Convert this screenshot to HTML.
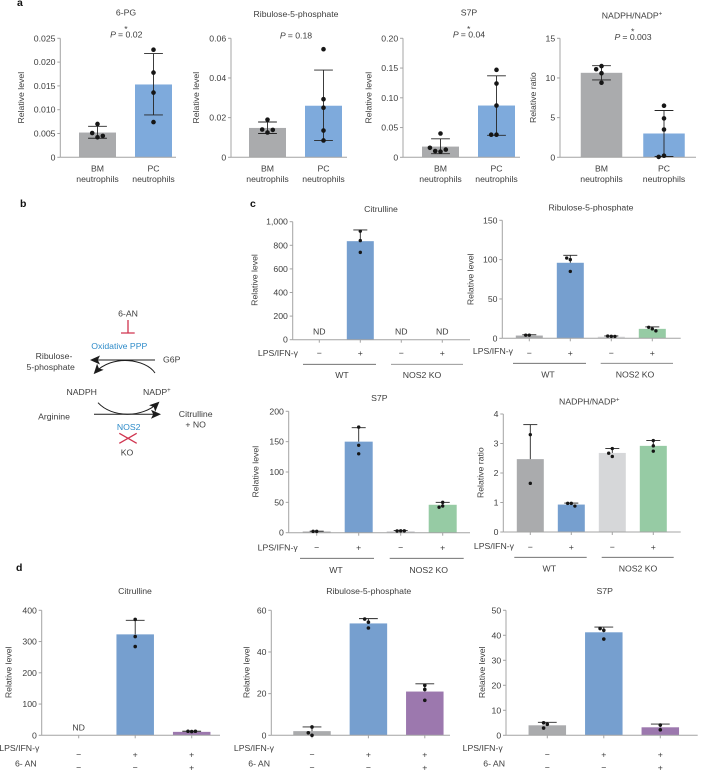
<!DOCTYPE html>
<html>
<head>
<meta charset="utf-8">
<title>Neutrophil metabolite figure</title>
<style>
html,body{margin:0;padding:0;background:#fff;width:706px;height:771px;overflow:hidden}
svg{display:block;filter:blur(0.3px)}
text{font-family:"Liberation Sans",Arial,sans-serif;font-size:8.7px;fill:#3d3d3d}
.lab{font-weight:bold;font-size:10.5px;fill:#111}
</style>
</head>
<body>
<svg id="figure" xmlns="http://www.w3.org/2000/svg" width="706" height="771" viewBox="0 0 706 771">
  <text class="lab" x="17" y="6">a</text>
  <text class="lab" x="20" y="207">b</text>
  <text class="lab" x="250" y="207">c</text>
  <text class="lab" x="16" y="571">d</text>

  <g>
    <defs>
      <marker id="ah" markerWidth="10" markerHeight="9" refX="8" refY="4.5" orient="auto" markerUnits="userSpaceOnUse">
        <path d="M0,0 L10,4.5 L0,9 L2.2,4.5 Z" fill="#1c1c1c"/>
      </marker>
    </defs>
    <text x="128" y="316.7" text-anchor="middle">6-AN</text>
    <path d="M128,320V333M121,333H134.7" stroke="#d0344f" stroke-width="1.3" fill="none"/>
    <text x="119.3" y="348.8" text-anchor="middle" style="fill:#2e8bc9">Oxidative PPP</text>
    <text x="54" y="359" text-anchor="middle">Ribulose-</text>
    <text x="50.7" y="369.8" text-anchor="middle">5-phosphate</text>
    <text x="163" y="362.7">G6P</text>
    <path d="M155,360H92" stroke="#1c1c1c" stroke-width="1" fill="none" marker-end="url(#ah)"/>
    <path d="M155,373C146,359 112,354 95,372.7" stroke="#1c1c1c" stroke-width="1" fill="none" marker-end="url(#ah)"/>
    <text x="81.7" y="395" text-anchor="middle">NADPH</text>
    <text x="143" y="395">NADP<tspan dy="-3" font-size="6">+</tspan></text>
    <text x="54" y="419.7" text-anchor="middle">Arginine</text>
    <path d="M94,414.3H159" stroke="#1c1c1c" stroke-width="1" fill="none" marker-end="url(#ah)"/>
    <path d="M98,402.7C112,418 142,418 158,403" stroke="#1c1c1c" stroke-width="1" fill="none" marker-end="url(#ah)"/>
    <text x="195.7" y="417" text-anchor="middle">Citrulline</text>
    <text x="195.7" y="427.3" text-anchor="middle">+ NO</text>
    <text x="128.7" y="430" text-anchor="middle" style="fill:#2e8bc9">NOS2</text>
    <path d="M119.3,433.3L136.7,443.3M136.7,433.3L119.3,443.3" stroke="#d0344f" stroke-width="1.3" fill="none"/>
    <text x="127" y="455.7" text-anchor="middle">KO</text>
  </g>
</svg>
<script>
/* ---------- panel a data ---------- */
const aCategories = ['BM neutrophils', 'PC neutrophils'];

const a1Ticks = ['0', '0.005', '0.010', '0.015', '0.020', '0.025'];
const a1TickValues = [0, 0.005, 0.010, 0.015, 0.020, 0.025];
const a1Means = [0.0052, 0.0153];
const a1Low = [0.0040, 0.0089];
const a1High = [0.0065, 0.0218];
const a1Points = [[0.0070, 0.0042, 0.0051, 0.0045], [0.0226, 0.0178, 0.0136, 0.0074]];

const a2Ticks = ['0', '0.02', '0.04', '0.06'];
const a2TickValues = [0, 0.02, 0.04, 0.06];
const a2Means = [0.0148, 0.026];
const a2Low = [0.012, 0.0085];
const a2High = [0.0178, 0.044];
const a2Points = [[0.019, 0.0125, 0.014, 0.0138], [0.0545, 0.0293, 0.025, 0.0135, 0.0085]];

const a3Ticks = ['0', '0.05', '0.10', '0.15', '0.20'];
const a3TickValues = [0, 0.05, 0.10, 0.15, 0.20];
const a3Means = [0.018, 0.087];
const a3Low = [0.006, 0.037];
const a3High = [0.031, 0.137];
const a3Points = [[0.040, 0.0095, 0.0105, 0.013, 0.016], [0.147, 0.124, 0.087, 0.038, 0.038]];

const a4Ticks = ['0', '5', '10', '15'];
const a4TickValues = [0, 5, 10, 15];
const a4Means = [10.65, 3.0];
const a4Low = [9.75, 0.1];
const a4High = [11.55, 5.9];
const a4Points = [[11.5, 11.1, 10.6, 9.4], [6.5, 4.9, 3.5, 0.2, 0.05]];

/* ---------- panel c data ---------- */
const cLps = ['−', '+', '−', '+'];

const c1Ticks = ['0', '200', '400', '600', '800', '1,000'];
const c1TickValues = [0, 200, 400, 600, 800, 1000];
const c1Means = [null, 835, null, null];
const c1High = [null, 930, null, null];
const c1Points = [[], [920, 840, 740], [], []];

const c2Ticks = ['0', '50', '100', '150'];
const c2TickValues = [0, 50, 100, 150];
const c2Means = [3.5, 96, 2, 12];
const c2High = [4.5, 105.5, 3, 14.5];
const c2Points = [[4, 4], [100, 102, 85], [2.5, 2.8, 2.4], [12, 14, 9.5]];

const c3Ticks = ['0', '50', '100', '150', '200'];
const c3TickValues = [0, 50, 100, 150, 200];
const c3Means = [2, 150, 2.5, 46];
const c3High = [2.5, 173, 3.5, 50];
const c3Points = [[2.2, 2.2], [174, 144, 130], [3, 2.8, 3], [50, 44, 42]];

const c4Ticks = ['0', '1', '2', '3', '4'];
const c4TickValues = [0, 1, 2, 3, 4];
const c4Means = [2.47, 0.93, 2.68, 2.92];
const c4High = [3.64, 0.98, 2.83, 3.1];
const c4Points = [[3.3, 1.65], [0.97, 0.97, 0.88], [2.83, 2.56, 2.67], [3.1, 2.92, 2.74]];

/* ---------- panel d data ---------- */
const dLps = ['−', '+', '+'];
const dAn = ['−', '−', '+'];

const d1Ticks = ['0', '100', '200', '300', '400'];
const d1TickValues = [0, 100, 200, 300, 400];
const d1Means = [null, 323, 11];
const d1High = [null, 368, 13];
const d1Points = [[], [371, 316, 284], [12, 13, 13]];

const d2Ticks = ['0', '20', '40', '60'];
const d2TickValues = [0, 20, 40, 60];
const d2Means = [2, 53.7, 21];
const d2High = [4, 56, 24.7];
const d2Points = [[4, 0, 1.2], [54.3, 55.8, 51.5], [24, 22, 16.8]];

const d3Ticks = ['0', '10', '20', '30', '40', '50'];
const d3TickValues = [0, 10, 20, 30, 40, 50];
const d3Means = [4, 41.2, 3.2];
const d3High = [5.2, 43.3, 4.5];
const d3Points = [[4.4, 5, 2.9], [42, 42.7, 38.5], [4.1, 2.2]];

/* ---------- drawing ---------- */
const svgNS = 'http://www.w3.org/2000/svg';
const root = document.getElementById('figure');
const GRAY = '#aaabad', BLUE_A = '#7eaadc', BLUE = '#769fcf', GREEN = '#96cba4', LIGHT = '#d6d7d9', PURPLE = '#9c78ae';
const AXIS = '#a4a4a4', INK = '#262626';

function make(parent, tag, name, attrs) {
  const el = document.createElementNS(svgNS, tag);
  
  
  for (const k in attrs) el.setAttribute(k, attrs[k]);
  parent.appendChild(el);
  return el;
}
function line(p, name, x1, y1, x2, y2, stroke, w) {
  return make(p, 'line', name, {x1, y1, x2, y2, stroke, 'stroke-width': w || 1});
}
function label(p, name, x, y, str, anchor, extra) {
  const t = make(p, 'text', name, Object.assign({x, y: y + 3, 'text-anchor': anchor || 'middle'}, extra || {}));
  t.textContent = str;
  return t;
}
/* places dots side by side when they would collide, keeping array order */
function swarm(values, yScale, step, gap) {
  const placed = [];
  const order = [0, -1, 1, -2, 2, -3, 3];
  return values.map(function (v) {
    const y = yScale(v);
    let off = 0;
    for (const o of order) {
      const dx = o * step;
      if (!placed.some(function (q) { return Math.abs(q.dx - dx) < step * 0.9 && Math.abs(q.y - y) < gap; })) { off = dx; break; }
    }
    placed.push({dx: off, y: y});
    return {dx: off, y: y};
  });
}

function drawChart(c) {
  const g = make(root, 'g', c.name, {});
  const maxV = c.tickValues[c.tickValues.length - 1];
  const yScale = function (v) { return c.y0 - (v / maxV) * (c.y0 - c.yTop); };
  const xScale = function (i) { return c.c0 + i * c.step; };

  label(g, 'chart-title', c.titleX, c.titleY, c.title);
  if (c.superPlus) {
    const tt = g.lastChild;
    const sup = make(tt, 'tspan', 'title-superscript', {dy: -3, 'font-size': 6});
    sup.textContent = '+';
  }

  c.means.forEach(function (m, i) {
    if (m === null) return;
    make(g, 'rect', 'bar-' + i, {x: xScale(i) - c.barW / 2, y: yScale(m), width: c.barW, height: c.y0 - yScale(m), fill: c.colors[i]});
  });

  line(g, 'y-axis', c.x0, c.yTop, c.x0, c.y0, AXIS);
  line(g, 'x-axis', c.x0, c.y0, c.xEnd, c.y0, AXIS);

  c.tickValues.forEach(function (v, i) {
    line(g, 'y-tick', c.x0 - 3, yScale(v), c.x0, yScale(v), AXIS);
    label(g, 'y-tick-label', c.x0 - 4.8, yScale(v), c.ticks[i], 'end');
  });
  const yt = make(g, 'text', 'y-axis-title', {transform: 'translate(' + (c.yTitleX + 3) + ',' + c.yTitleY + ') rotate(-90)', 'text-anchor': 'middle'});
  yt.textContent = c.yTitle;

  c.means.forEach(function (m, i) {
    const cx = xScale(i);
    if (c.xTicks) line(g, 'x-tick', cx, c.y0, cx, c.y0 + 3, AXIS);
    if (m === null) {
      label(g, 'not-detected-label', cx, c.y0 - 8, 'ND');
      return;
    }
    const top = yScale(c.high[i]);
    const bot = c.low ? yScale(c.low[i]) : yScale(m);
    line(g, 'error-bar', cx, top, cx, bot, INK, 0.9);
    line(g, 'error-cap-upper', cx - c.cap, top, cx + c.cap, top, INK, 0.9);
    if (c.low) line(g, 'error-cap-lower', cx - c.cap, bot, cx + c.cap, bot, INK, 0.9);
    swarm(c.points[i], yScale, c.dotStep, c.dotR * 2.1).forEach(function (p) {
      make(g, 'circle', 'data-point', {cx: cx + p.dx, cy: p.y, r: c.dotR, fill: '#161616'});
    });
  });

  if (c.categories) {
    c.categories.forEach(function (cat, i) {
      const parts = cat.split(' ');
      label(g, 'category-label', xScale(i), c.y0 + 11, parts[0]);
      label(g, 'category-label', xScale(i), c.y0 + 21.7, parts[1]);
    });
  }
  if (c.lps) {
    label(g, 'lps-ifn-row-label', c.rowLabelX, c.lpsLabelY, 'LPS/IFN-γ', 'end');
    c.lps.forEach(function (s, i) { label(g, 'lps-ifn-state', xScale(i), c.lpsY, s); });
  }
  if (c.an) {
    label(g, 'six-an-row-label', c.anLabelX, c.anLabelY, '6- AN', 'end');
    c.an.forEach(function (s, i) { label(g, 'six-an-state', xScale(i), c.anY, s); });
  }
  if (c.groups) {
    c.groups.forEach(function (gr) {
      line(g, 'group-line-' + gr.name, gr.x1, c.groupLineY, gr.x2, c.groupLineY, gr.color || '#5f5f5f', 0.9);
      label(g, 'group-label-' + gr.name, gr.lx, c.groupLabelY, gr.name);
    });
  }
}

const aBase = {categories: aCategories, yTop: 38.3, y0: 157.3, yTitleY: 97.7, barW: 37, step: 56, cap: 9.4, dotR: 2.3, dotStep: 5.3, colors: [GRAY, BLUE_A], yTitle: 'Relative level'};
drawChart(Object.assign({}, aBase, {name: 'chart-a-6pg', title: '6-PG', titleX: 126, titleY: 12.7, x0: 60.3, xEnd: 176, c0: 97.5, yTitleX: 21, ticks: a1Ticks, tickValues: a1TickValues, means: a1Means, low: a1Low, high: a1High, points: a1Points}));
drawChart(Object.assign({}, aBase, {name: 'chart-a-ribulose', title: 'Ribulose-5-phosphate', titleX: 296, titleY: 14, x0: 231, xEnd: 347, c0: 267.5, yTitleX: 196, ticks: a2Ticks, tickValues: a2TickValues, means: a2Means, low: a2Low, high: a2High, points: a2Points}));
drawChart(Object.assign({}, aBase, {name: 'chart-a-s7p', title: 'S7P', titleX: 469, titleY: 12.7, x0: 403, xEnd: 520, c0: 440.5, yTitleX: 368.3, ticks: a3Ticks, tickValues: a3TickValues, means: a3Means, low: a3Low, high: a3High, points: a3Points}));
drawChart(Object.assign({}, aBase, {name: 'chart-a-nadph', title: 'NADPH/NADP', superPlus: true, titleX: 632, titleY: 15.7, x0: 560, xEnd: 696, c0: 601.5, step: 62.5, barW: 41.5, yTitleX: 533, yTitle: 'Relative ratio', ticks: a4Ticks, tickValues: a4TickValues, means: a4Means, low: a4Low, high: a4High, points: a4Points}));

const cBase = {xTicks: true, lps: cLps, barW: 27, step: 41, cap: 7, dotR: 1.7, dotStep: 3.6, colors: [GRAY, BLUE, LIGHT, GREEN], yTitle: 'Relative level'};
drawChart(Object.assign({}, cBase, {name: 'chart-c-citrulline', title: 'Citrulline', titleX: 381, titleY: 209, x0: 292.7, xEnd: 470, yTop: 221.7, y0: 339.7, c0: 319.3, yTitleX: 254.7, yTitleY: 280, ticks: c1Ticks, tickValues: c1TickValues, means: c1Means, high: c1High, points: c1Points, rowLabelX: 298, lpsLabelY: 353, lpsY: 353, groupLineY: 364.3, groupLabelY: 375, groups: [{name: 'WT', x1: 303, x2: 376, lx: 342}, {name: 'NOS2 KO', x1: 391, x2: 463, lx: 422, color: '#8a8a8a'}]}));
drawChart(Object.assign({}, cBase, {name: 'chart-c-ribulose', title: 'Ribulose-5-phosphate', titleX: 591, titleY: 207.7, x0: 502.3, xEnd: 680.7, yTop: 220.3, y0: 338.3, c0: 529.3, yTitleX: 470.7, yTitleY: 279.3, ticks: c2Ticks, tickValues: c2TickValues, means: c2Means, high: c2High, points: c2Points, rowLabelX: 513, lpsLabelY: 351, lpsY: 353, groupLineY: 363.3, groupLabelY: 374.3, groups: [{name: 'WT', x1: 513, x2: 586, lx: 548}, {name: 'NOS2 KO', x1: 600.7, x2: 673, lx: 635, color: '#7a7a7a'}]}));
drawChart(Object.assign({}, cBase, {name: 'chart-c-s7p', title: 'S7P', titleX: 379.3, titleY: 398, x0: 288.7, xEnd: 470, yTop: 411.3, y0: 532.7, c0: 316.7, step: 42, barW: 28, yTitleX: 255.7, yTitleY: 471.7, ticks: c3Ticks, tickValues: c3TickValues, means: c3Means, high: c3High, points: c3Points, rowLabelX: 297.7, lpsLabelY: 547.3, lpsY: 547.3, groupLineY: 558.3, groupLabelY: 570, groups: [{name: 'WT', x1: 300, x2: 374, lx: 336}, {name: 'NOS2 KO', x1: 389.7, x2: 463.7, lx: 428.7}]}));
drawChart(Object.assign({}, cBase, {name: 'chart-c-nadph', title: 'NADPH/NADP', superPlus: true, titleX: 589.3, titleY: 401.7, x0: 503.3, xEnd: 680.7, yTop: 414, y0: 532, c0: 530.3, yTitleX: 480.7, yTitleY: 472.7, yTitle: 'Relative ratio', ticks: c4Ticks, tickValues: c4TickValues, means: c4Means, high: c4High, points: c4Points, rowLabelX: 514, lpsLabelY: 546, lpsY: 547, groupLineY: 557.3, groupLabelY: 568.7, groups: [{name: 'WT', x1: 514.3, x2: 586.7, lx: 549.3}, {name: 'NOS2 KO', x1: 601.7, x2: 673.7, lx: 638}]}));

const dBase = {xTicks: true, lps: dLps, an: dAn, yTop: 610.3, y0: 735.3, yTitleY: 672.3, barW: 37.5, step: 56.5, cap: 9.4, dotR: 1.8, dotStep: 3.7, colors: [GRAY, BLUE, PURPLE], yTitle: 'Relative level', lpsY: 754.7, anY: 767.7, lpsLabelY: 748, anLabelY: 763.7};
drawChart(Object.assign({}, dBase, {name: 'chart-d-citrulline', title: 'Citrulline', titleX: 135, titleY: 591, x0: 41.7, xEnd: 220, c0: 78.7, yTitleX: 8.7, ticks: d1Ticks, tickValues: d1TickValues, means: d1Means, high: d1High, points: d1Points, rowLabelX: 39.3, anLabelX: 36.7}));
drawChart(Object.assign({}, dBase, {name: 'chart-d-ribulose', title: 'Ribulose-5-phosphate', titleX: 368.7, titleY: 591, x0: 271.3, xEnd: 450, c0: 312, step: 56.4, yTitleX: 246.7, ticks: d2Ticks, tickValues: d2TickValues, means: d2Means, high: d2High, points: d2Points, rowLabelX: 274, anLabelX: 270}));
drawChart(Object.assign({}, dBase, {name: 'chart-d-s7p', title: 'S7P', titleX: 604.7, titleY: 591, x0: 506, xEnd: 697.7, c0: 547.3, yTitleX: 482, ticks: d3Ticks, tickValues: d3TickValues, means: d3Means, high: d3High, points: d3Points, rowLabelX: 502.7, anLabelX: 505}));

/* significance annotations, panel a */
const pLabels = ['= 0.02', '= 0.18', '= 0.04', '= 0.003'];
const pX = [126.3, 296, 469, 633];
const pY = [34.7, 35.5, 34.7, 37];
const pStar = [true, false, true, true];
const pGroup = make(root, 'g', 'p-value-annotations', {});
pLabels.forEach(function (txt, i) {
  const t = make(pGroup, 'text', 'p-value-label', {x: pX[i], y: pY[i] + 3, 'text-anchor': 'middle'});
  const pItalic = make(t, 'tspan', 'p-symbol', {'font-style': 'italic'});
  pItalic.textContent = 'P ';
  const rest = make(t, 'tspan', 'p-value', {});
  rest.textContent = txt;
  if (pStar[i]) {
    const s = make(pGroup, 'text', 'significance-star', {x: pX[i] - 0.3, y: pY[i] - 2.6, 'text-anchor': 'middle'});
    s.textContent = '*';
  }
});
</script>
</body>
</html>
